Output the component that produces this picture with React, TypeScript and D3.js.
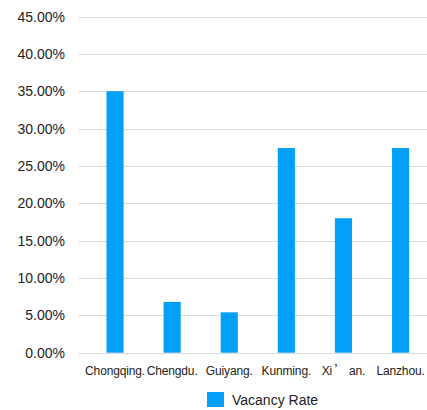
import React from "react";
import * as d3 from "d3";

const categories = ["Chongqing.", "Chengdu.", "Guiyang.", "Kunming.", "Xi’an.", "Lanzhou."];
const vacancyRate = [35.0, 6.8, 5.4, 27.4, 18.0, 27.4];
const yTicks = [0, 5, 10, 15, 20, 25, 30, 35, 40, 45];
const seriesName = "Vacancy Rate";

const W = 427;
const H = 410;
const BAR = "#03A0FA";
const TEXT = "#222";
const FONT = "'Liberation Sans', Arial, Helvetica, sans-serif";
const CJK = "'Noto Sans CJK SC', sans-serif";

function Label({ text, x, y }: { text: string; x: number; y: number }) {
  const parts = text.split(/(’)/).filter((p) => p.length);
  return (
    <text
      x={x}
      y={y}
      textAnchor="middle"
      fontSize={12}
      letterSpacing={-0.15}
      fill={TEXT}
      fontFamily={FONT}
    >
      {parts.map((p, i) =>
        p === "’" ? (
          <tspan key={i} fontFamily={CJK}>{" " + p + " "}</tspan>
        ) : (
          <tspan key={i}>{p}</tspan>
        )
      )}
    </text>
  );
}

export default function App() {
  const gridLeft = 78;
  const y = d3.scaleLinear().domain([0, 45]).range([352.7, 16.5]);
  const x = d3
    .scaleBand<string>()
    .domain(categories)
    .range([76.5, 439.1])
    .paddingInner(0.7)
    .paddingOuter(0.525);

  return (
    <svg
      width={W}
      height={H}
      style={{ position: "absolute", left: 0, top: 0, display: "block", background: "#fff" }}
    >
      {yTicks.map((t) => (
        <g key={t}>
          <line
            x1={gridLeft}
            x2={W}
            y1={Math.round(y(t)) + 0.5}
            y2={Math.round(y(t)) + 0.5}
            stroke="#dcdcdc"
            strokeWidth={1}
          />
          <text
            x={65}
            y={y(t)}
            dy="0.36em"
            textAnchor="end"
            fontSize={14}
            fill={TEXT}
            fontFamily={FONT}
          >
            {d3.format(".2f")(t) + "%"}
          </text>
        </g>
      ))}
      {categories.map((c, i) => (
        <rect
          key={c}
          x={x(c)}
          y={y(vacancyRate[i])}
          width={x.bandwidth()}
          height={y(0) - y(vacancyRate[i])}
          fill={BAR}
        />
      ))}
      {categories.map((c) => (
        <Label key={c} text={c} x={(x(c) as number) + x.bandwidth() / 2} y={375} />
      ))}
      <rect x={207} y={392} width={17} height={15} fill={BAR} />
      <text x={232} y={405} fontSize={14} fill={TEXT} fontFamily={FONT}>
        {seriesName}
      </text>
    </svg>
  );
}
